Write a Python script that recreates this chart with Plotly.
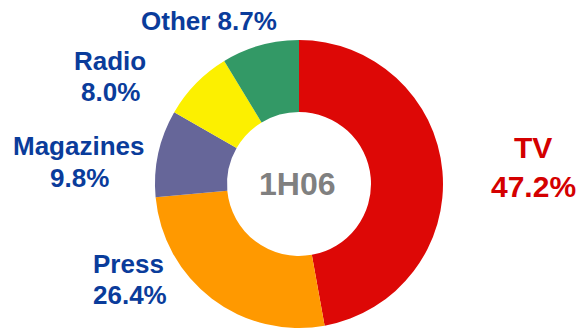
import plotly.graph_objects as go

# Advertising spend share by medium, first half 2006
media = ["TV", "Press", "Magazines", "Radio", "Other"]
shares = [47.2, 26.4, 9.8, 8.0, 8.7]
slice_colors = ["#DD0806", "#FF9900", "#666699", "#FCF000", "#339966"]
period_label = "1H06"

W, H = 580, 328
BLUE = "#0A3C9B"
RED = "#D40000"
FONT = "Liberation Sans, Arial, sans-serif"

fig = go.Figure(
    go.Pie(
        labels=media,
        values=shares,
        marker=dict(colors=slice_colors, line=dict(width=0)),
        hole=0.5,
        sort=False,
        direction="clockwise",
        rotation=0,
        textinfo="none",
        hoverinfo="label+percent",
        showlegend=False,
        domain=dict(x=[(299 - 144) / W, (299 + 144) / W], y=[0, 288 / H]),
    )
)


def px(x, y):
    return x / W, 1 - y / H


# label lines: (text, center x px, cap-centre y px, size, color)
lines = [
    (f"{media[4]} {shares[4]:.1f}%", 209.5, 20.5, 26, BLUE),
    (media[3], 110, 60.5, 26, BLUE),
    (f"{shares[3]:.1f}%", 110.5, 92.5, 26, BLUE),
    (media[2], 79.3, 146, 26, BLUE),
    (f"{shares[2]:.1f}%", 79, 178, 26, BLUE),
    (media[1], 128.7, 263.5, 26, BLUE),
    (f"{shares[1]:.1f}%", 129.5, 294.5, 26, BLUE),
    (media[0], 533, 147, 30, RED),
    (f"{shares[0]:.1f}%", 533.5, 187, 30, RED),
    (period_label, 297, 183.5, 32, "#808080"),
]

annotations = []
for text, cx, cy, size, color in lines:
    ax, ay = px(cx, cy)
    annotations.append(
        dict(
            text=f"<b>{text}</b>",
            x=ax,
            y=ay,
            xref="paper",
            yref="paper",
            xanchor="center",
            yanchor="middle",
            showarrow=False,
            font=dict(family=FONT, size=size, color=color),
        )
    )

fig.update_layout(
    width=W,
    height=H,
    margin=dict(l=0, r=0, t=0, b=0),
    paper_bgcolor="white",
    plot_bgcolor="white",
    annotations=annotations,
)

fig.write_html("out.html")
